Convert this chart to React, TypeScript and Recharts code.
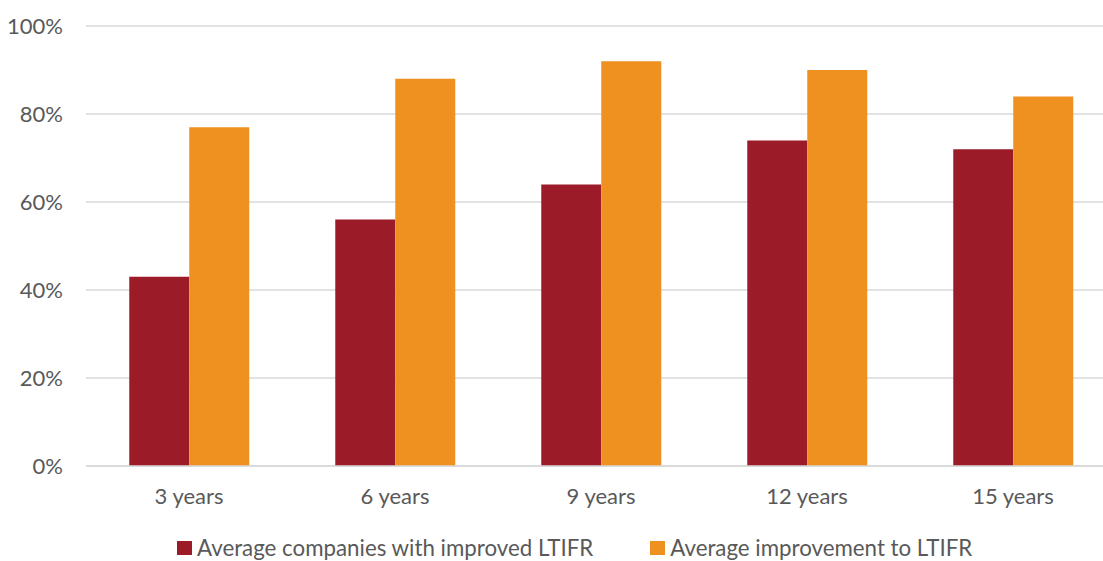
import React from "react";
import { BarChart, Bar, XAxis, YAxis, CartesianGrid, Legend } from "recharts";

const categories = ["3 years", "6 years", "9 years", "12 years", "15 years"];
const companiesImproved = [43, 56, 64, 74, 72];
const averageImprovement = [77, 88, 92, 90, 84];
const yTicks = [0, 20, 40, 60, 80, 100];

const seriesNames = ["Average companies with improved LTIFR", "Average improvement to LTIFR"];
const colors = ["#9B1B29", "#EF9120"];

const data = categories.map((c, i) => ({
  name: c,
  a: companiesImproved[i],
  b: averageImprovement[i],
}));

const FONT = "Lato, 'Open Sans', sans-serif";
const TEXT = "#595959";

const LegendContent = () => (
  <div style={{ display: "flex", justifyContent: "flex-start", alignItems: "center", fontFamily: FONT, fontSize: 22.3, color: TEXT, paddingLeft: 177 }}>
    {seriesNames.map((n, i) => (
      <div key={n} style={{ display: "flex", alignItems: "center", marginRight: i === 0 ? 57 : 0 }}>
        <span style={{ display: "inline-block", width: 15, height: 14, background: colors[i], marginRight: 5 }} />
        <span style={{ lineHeight: "24px", whiteSpace: "nowrap" }}>{n}</span>
      </div>
    ))}
  </div>
);

export default function App() {
  return (
    <div style={{ position: "absolute", left: 0, top: 0, width: 1103, height: 561, overflow: "hidden", background: "#fff" }}>
      <BarChart
        width={1120}
        height={561}
        data={data}
        margin={{ top: 26, right: 4, left: 0, bottom: 0 }}
        barCategoryGap="21%"
        barGap={0}
      >
        <CartesianGrid vertical={false} stroke="#D9D9D9" strokeWidth={1.5} />
        <XAxis
          dataKey="name"
          height={95}
          axisLine={{ stroke: "#D9D9D9", strokeWidth: 1.5 }}
          tickLine={false}
          tickMargin={16}
          tick={{ fill: TEXT, fontSize: 22, fontFamily: FONT }}
        />
        <YAxis
          width={86}
          domain={[0, 100]}
          ticks={yTicks}
          tickFormatter={(v: number) => `${v}%`}
          axisLine={false}
          tickLine={false}
          tickMargin={17}
          tick={{ fill: TEXT, fontSize: 22, fontFamily: FONT }}
          interval={0}
        />
        <Legend verticalAlign="middle" content={<LegendContent />} wrapperStyle={{ top: 536, left: 0, width: 1103 }} />
        <Bar dataKey="a" name={seriesNames[0]} fill={colors[0]} isAnimationActive={false} />
        <Bar dataKey="b" name={seriesNames[1]} fill={colors[1]} isAnimationActive={false} />
      </BarChart>
    </div>
  );
}
